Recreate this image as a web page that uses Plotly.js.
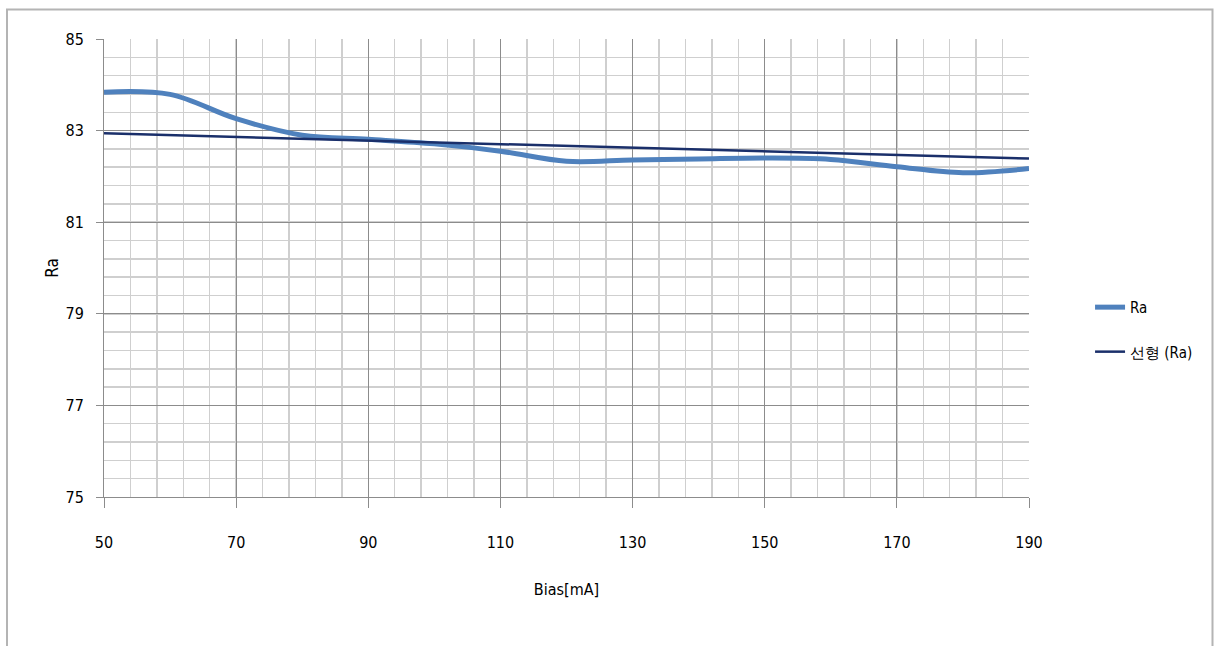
<!DOCTYPE html>
<html>
<head>
<meta charset="utf-8">
<script src="https://cdn.plot.ly/plotly-3.0.1.min.js"></script>
<style>html,body{margin:0;padding:0;background:#fff;}#chart{width:1219px;height:646px;}</style>
</head>
<body>
<div id="chart"></div>
<script>
var biasX = [50, 60, 70, 80, 90, 100, 110, 120, 130, 140, 150, 160, 170, 180, 190];
var raValues = [83.84, 83.79, 83.26, 82.90, 82.81, 82.71, 82.55, 82.33, 82.36, 82.38, 82.40, 82.37, 82.21, 82.08, 82.17];
var trendX = [50, 190];
var trendY = [82.94, 82.39];
var xTicks = [50, 70, 90, 110, 130, 150, 170, 190];
var yTicks = [75, 77, 79, 81, 83, 85];
var seriesNames = ["Ra", "선형 (Ra)"];

var FONT = "DejaVu Sans Condensed, sans-serif";

var traces = [
  {x: biasX, y: raValues, name: seriesNames[0], type: "scatter", mode: "lines",
   line: {color: "#4f81bd", width: 5, shape: "spline", smoothing: 1}, legendgroup: "a"},
  {x: trendX, y: trendY, name: seriesNames[1], type: "scatter", mode: "lines",
   line: {color: "#1a2f6a", width: 2.5}, legendgroup: "b"}
];

var layout = {
  width: 1219, height: 646,
  margin: {l: 104, r: 190, t: 39, b: 149},
  paper_bgcolor: "#ffffff", plot_bgcolor: "#ffffff",
  font: {family: FONT, size: 16, color: "#000"},
  showlegend: true,
  legend: {x: 1.066, xanchor: "left", y: 0.45, yanchor: "top",
           traceorder: "grouped", tracegroupgap: 22,
           font: {family: FONT, size: 15, color: "#000"}, bgcolor: "rgba(0,0,0,0)"},
  xaxis: {
    range: [50, 190], tickmode: "array", tickvals: xTicks, ticktext: xTicks.map(String),
    showgrid: true, gridcolor: "#8c8c8c", gridwidth: 1,
    minor: {dtick: 4, tick0: 50, showgrid: true, gridcolor: "#cfcfcf", gridwidth: 1.5, ticks: ""},
    showline: true, linecolor: "#8c8c8c", linewidth: 1,
    ticks: "outside", ticklen: 10, tickcolor: "#8c8c8c",
    ticklabelstandoff: 21, zeroline: false,
    title: {text: "Bias[mA]", font: {family: FONT, size: 16}, standoff: 32}
  },
  yaxis: {
    range: [75, 85], tickmode: "array", tickvals: yTicks, ticktext: yTicks.map(String),
    showgrid: true, gridcolor: "#8c8c8c", gridwidth: 1,
    minor: {dtick: 0.4, tick0: 75, showgrid: true, gridcolor: "#cfcfcf", gridwidth: 1.5, ticks: ""},
    showline: true, linecolor: "#8c8c8c", linewidth: 1,
    ticks: "outside", ticklen: 7, tickcolor: "#8c8c8c",
    ticklabelstandoff: 9, zeroline: false,
    title: {text: "Ra", font: {family: FONT, size: 17}, standoff: 2}
  },
  shapes: [
    {type: "rect", xref: "paper", yref: "paper",
     x0: (7 - 104) / 925, x1: (1212.5 - 104) / 925,
     y0: (497 - 9.5) / 458, y1: (497 - 680) / 458,
     line: {color: "#b4b4b4", width: 2}, fillcolor: "rgba(0,0,0,0)", layer: "below"}
  ]
};

Plotly.newPlot("chart", traces, layout, {displayModeBar: false, staticPlot: true});
</script>
</body>
</html>
